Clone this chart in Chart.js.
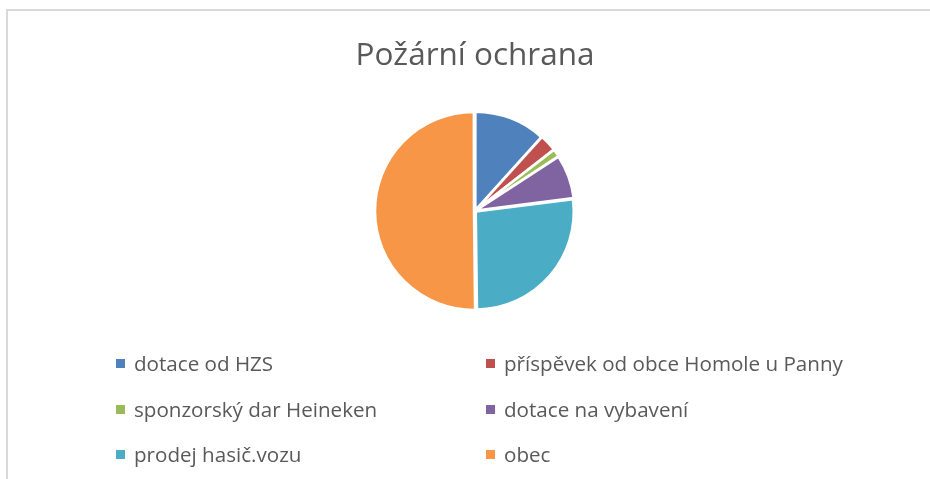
<!DOCTYPE html>
<html>
<head>
<meta charset="utf-8">
<script src="https://cdn.jsdelivr.net/npm/chart.js@4/dist/chart.umd.min.js"></script>
<style>
  html, body { margin: 0; padding: 0; background: #fff; width: 930px; height: 479px; overflow: hidden; }
  #frame { position: absolute; left: 6px; top: 9px; width: 940px; height: 480px; border: 2px solid #d9d9d9; box-sizing: border-box; }
  #wrap { position: absolute; left: 0; top: 0; width: 930px; height: 479px; }
  .leg { position: absolute; font-family: "Open Sans", sans-serif; font-size: 20.6px; color: #595959; white-space: nowrap; line-height: 24px; }
  .leg i { position: absolute; width: 9px; height: 9px; top: 8px; left: 0; }
  .leg span { position: absolute; left: 18px; top: 0; }
</style>
</head>
<body>
<div id="frame"></div>
<div id="wrap"><canvas id="c" width="930" height="479"></canvas></div>
<div id="legend"></div>
<script>
const titleText = "Požární ochrana";
const categories = [
  "dotace od HZS",
  "příspěvek od obce Homole u Panny",
  "sponzorský dar Heineken",
  "dotace na vybavení",
  "prodej hasič.vozu",
  "obec"
];
const values = [11.7, 2.8, 1.3, 7.2, 26.8, 50.2];
const colors = ["#4f81bd", "#c0504d", "#9bbb59", "#8064a2", "#4bacc6", "#f79646"];

Chart.defaults.font.family = '"Open Sans", sans-serif';
new Chart(document.getElementById("c"), {
  type: "pie",
  data: {
    labels: categories,
    datasets: [{
      data: values,
      backgroundColor: colors,
      borderColor: "#ffffff",
      borderWidth: 2.5,
      offset: 4,
      hoverOffset: 0,
      radius: 98
    }]
  },
  options: {
    responsive: false,
    animation: false,
    events: [],
    layout: { padding: { left: 20, right: 0, top: 0, bottom: 152 } },
    plugins: {
      legend: { display: false },
      tooltip: { enabled: false },
      title: {
        display: true,
        text: titleText,
        color: "#595959",
        font: { size: 31.5, weight: "normal", family: '"Open Sans", sans-serif' },
        padding: { top: 37, bottom: 20 }
      }
    }
  }
});

// HTML legend in two columns built from the data arrays
const legend = document.getElementById("legend");
const colX = [116, 486];
const rowY = [351, 397, 442];
categories.forEach((name, i) => {
  const d = document.createElement("div");
  d.className = "leg";
  d.style.left = colX[i % 2] + "px";
  d.style.top = rowY[Math.floor(i / 2)] + "px";
  const m = document.createElement("i");
  m.style.background = colors[i];
  const s = document.createElement("span");
  s.textContent = name;
  d.appendChild(m);
  d.appendChild(s);
  legend.appendChild(d);
});
</script>
</body>
</html>
